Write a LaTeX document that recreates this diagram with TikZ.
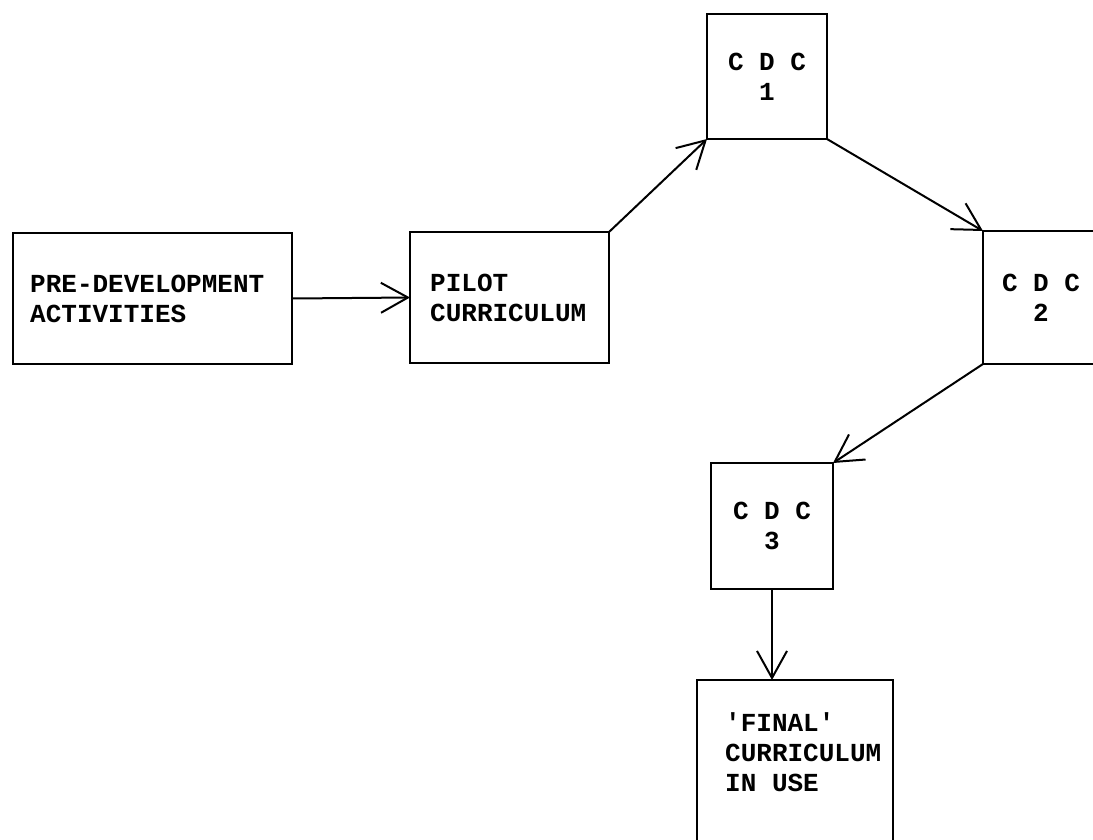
\documentclass[tikz,border=0pt]{standalone}
\usepackage{fontspec}
\newfontfamily\typewriter{Liberation Mono}
\usetikzlibrary{arrows.meta}
\begin{document}
\begin{tikzpicture}[x=1pt,y=-1pt,
  box/.style={draw, line width=2.4pt, outer sep=0pt, inner sep=0pt,
    font=\typewriter\bfseries\fontsize{26}{30}\selectfont, align=center},
  lbl/.style={font=\typewriter\bfseries\fontsize{26}{30}\selectfont,
    align=left, inner sep=0pt, anchor=west},
  flow/.style={line width=2pt,
    -{Straight Barb[length=27pt,width=30pt,line width=2pt]}}]
\useasboundingbox (0,0) rectangle (1093,839);
\clip (0,0) rectangle (1093,839);

% stages of development
\node[box, minimum width=279pt, minimum height=131pt] (pre)   at (152.5,298.5) {};
\node[box, minimum width=199pt, minimum height=131pt] (pilot) at (509.5,297.5) {};
\node[box, minimum width=120pt, minimum height=125pt] (cdc1)  at (767,76.5) {C D C\\1};
\node[box, minimum width=116pt, minimum height=133pt] (cdc2)  at (1041,297.5) {C D C\\2};
\node[box, minimum width=122pt, minimum height=126pt] (cdc3)  at (772,526) {C D C\\3};
\node[box, minimum width=196pt, minimum height=190pt] (final) at (795,775) {};

% box labels
\node[lbl] (pretext)   at ([xshift=17pt]pre.west) {PRE-DEVELOPMENT\\ACTIVITIES};
\node[lbl] (pilottext) at ([xshift=20pt]pilot.west) {PILOT\\CURRICULUM};
\node[lbl] (finaltext) at ([xshift=28pt,yshift=-72pt]final.north west) {'FINAL'\\CURRICULUM\\IN USE};

% flow between stages
\draw[flow] (pre.east) -- (pilot.west);
\draw[flow] (pilot.north east) -- (cdc1.south west);
\draw[flow] (cdc1.south east) -- (cdc2.north west);
\draw[flow] (cdc2.south west) -- (cdc3.north east);
\draw[flow] (cdc3.south) -- (cdc3.south |- final.north);
\end{tikzpicture}
\end{document}
